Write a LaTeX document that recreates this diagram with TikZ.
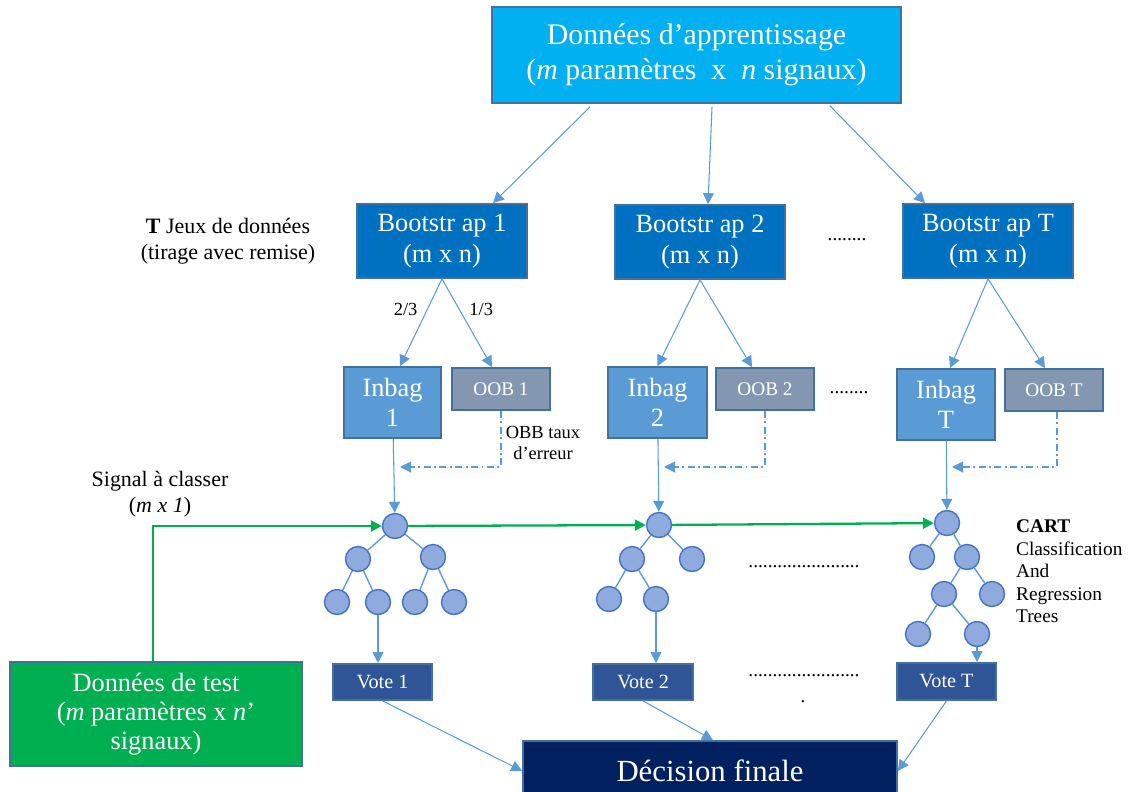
\documentclass[tikz,border=0pt]{standalone}
\usepackage{fontspec}
\setmainfont{Liberation Serif}
\usetikzlibrary{arrows.meta,positioning}

\definecolor{edgeblue}{HTML}{5B9BD5}
\definecolor{boxline}{HTML}{41719C}
\definecolor{topfill}{HTML}{00B0F0}
\definecolor{bootfill}{HTML}{0070C0}
\definecolor{inbagfill}{HTML}{5B9BD5}
\definecolor{oobfill}{HTML}{8497B0}
\definecolor{votefill}{HTML}{2F5597}
\definecolor{decfill}{HTML}{002060}
\definecolor{testgreen}{HTML}{00B050}
\definecolor{circfill}{HTML}{8FAADC}
\definecolor{circline}{HTML}{4472C4}

\begin{document}
\begin{tikzpicture}[
    x=0.02cm, y=-0.02cm,
    box/.style={draw=boxline, line width=1pt, align=center, text=white, inner sep=2pt},
    tnode/.style={circle, draw=circline, fill=circfill, line width=0.8pt, minimum size=0.5cm, inner sep=0pt},
    note/.style={align=center, inner sep=1pt},
    arr/.style={-{Triangle[length=2.2mm, width=2.2mm]}, draw=edgeblue, line width=0.6pt},
    edge/.style={draw=edgeblue, line width=0.8pt},
    oobarr/.style={arr, dash pattern=on 4pt off 2pt on 1pt off 2pt},
    garr/.style={-{Triangle[length=2.2mm, width=2.2mm]}, draw=testgreen, line width=1.3pt}
]
\useasboundingbox (0,0) rectangle (1128,791);

% training data
\node[box, fill=topfill, minimum width=8.18cm, minimum height=1.92cm, font=\fontsize{17}{20}\selectfont] (top) at (696.5,55)
    {Données d’apprentissage\\(\textit{m} paramètres\ \ x\ \ \textit{n} signaux)};

% bootstrap samples
\node[box, fill=bootfill, minimum width=3.4cm, minimum height=1.48cm, font=\fontsize{15}{18}\selectfont] (boot1) at (442,241) {Bootstr ap 1\\(m x n)};
\node[box, fill=bootfill, minimum width=3.4cm, minimum height=1.48cm, font=\fontsize{15}{18}\selectfont] (boot2) at (700,242) {Bootstr ap 2\\(m x n)};
\node[box, fill=bootfill, minimum width=3.4cm, minimum height=1.48cm, font=\fontsize{15}{18}\selectfont] (bootT) at (988,241) {Bootstr ap T\\(m x n)};
\node[note, font=\fontsize{12.5}{14.5}\selectfont] (jeux) at (228,241) {\textbf{T} Jeux de données\\(tirage avec remise)};
\node[note, font=\fontsize{11}{13}\selectfont] (dots1) at (847,240) {........};

\draw[arr] ([xshift=-2.13cm,yshift=-0.06cm]top.south) -- ([xshift=1.02cm]boot1.north);
\draw[arr] ([xshift=0.31cm,yshift=-0.06cm]top.south) -- ([xshift=0.16cm]boot2.north);
\draw[arr] ([xshift=2.67cm,yshift=-0.04cm]top.south) -- ([xshift=-1.26cm]bootT.north);

% inbag / oob
\node[box, fill=inbagfill, minimum width=1.94cm, minimum height=1.42cm, font=\fontsize{15}{17}\selectfont] (inbag1) at (392.5,402.5) {Inbag\\1};
\node[box, fill=oobfill, minimum width=1.96cm, minimum height=0.84cm, font=\fontsize{11}{13}\selectfont] (oob1) at (501,389) {OOB 1};
\node[box, fill=inbagfill, minimum width=1.98cm, minimum height=1.42cm, font=\fontsize{15}{17}\selectfont] (inbag2) at (657.5,402.5) {Inbag\\2};
\node[box, fill=oobfill, minimum width=1.96cm, minimum height=0.84cm, font=\fontsize{11}{13}\selectfont] (oob2) at (765,389) {OOB 2};
\node[box, fill=inbagfill, minimum width=1.96cm, minimum height=1.42cm, font=\fontsize{15}{17}\selectfont] (inbagT) at (946,404.5) {Inbag\\T};
\node[box, fill=oobfill, minimum width=1.96cm, minimum height=0.84cm, font=\fontsize{11}{13}\selectfont] (oobT) at (1054,390) {OOB T};
\node[note, font=\fontsize{11}{13}\selectfont] (dots2) at (849,393) {........};

\draw[arr] (boot1.south) -- ([xshift=0.15cm]inbag1.north) node[pos=0.35, left=2pt, text=black, font=\fontsize{10.5}{12}\selectfont] (l23) {2/3};
\draw[arr] (boot1.south) -- ([xshift=-0.18cm]oob1.north) node[pos=0.35, right=2pt, text=black, font=\fontsize{10.5}{12}\selectfont] (l13) {1/3};
\draw[arr] (boot2.south) -- (inbag2.north);
\draw[arr] (boot2.south) -- ([xshift=-0.26cm]oob2.north);
\draw[arr] (bootT.south) -- ([xshift=0.08cm]inbagT.north);
\draw[arr] (bootT.south) -- ([xshift=-0.18cm]oobT.north);

% oob error
\coordinate (e1) at (400,467);
\coordinate (e2) at (664,467);
\coordinate (eT) at (952,467);
\draw[oobarr] (oob1.south) |- (e1);
\draw[oobarr] (oob2.south) |- (e2);
\draw[oobarr] ([xshift=0.06cm]oobT.south) |- (eT);
\node[note, font=\fontsize{10.5}{12}\selectfont] (obb) at (543,443) {OBB taux\\d’erreur};

% tree 1
\node[tnode] (r1) at (395,526) {};
\node[tnode] (r1a) at (358,559) {};
\node[tnode] (r1b) at (433,557) {};
\node[tnode] (r1c) at (337,602) {};
\node[tnode] (r1d) at (378,602) {};
\node[tnode] (r1e) at (415,602) {};
\node[tnode] (r1f) at (454,602) {};
\draw[edge] (r1) -- (r1a);
\draw[edge] (r1) -- (r1b);
\draw[edge] (r1a) -- (r1c);
\draw[edge] (r1a) -- (r1d);
\draw[edge] (r1b) -- (r1e);
\draw[edge] (r1b) -- (r1f);

% tree 2
\node[tnode] (r2) at (659,525) {};
\node[tnode] (r2a) at (632,559) {};
\node[tnode] (r2b) at (692,559) {};
\node[tnode] (r2c) at (609,599) {};
\node[tnode] (r2d) at (656,599) {};
\draw[edge] (r2) -- (r2a);
\draw[edge] (r2) -- (r2b);
\draw[edge] (r2a) -- (r2c);
\draw[edge] (r2a) -- (r2d);

% tree T
\node[tnode] (rT) at (947,523) {};
\node[tnode] (rTa) at (922,557) {};
\node[tnode] (rTb) at (967,557) {};
\node[tnode] (rTc) at (944,594) {};
\node[tnode] (rTd) at (992,594) {};
\node[tnode] (rTe) at (918,634) {};
\node[tnode] (rTf) at (977,634) {};
\draw[edge] (rT) -- (rTa);
\draw[edge] (rT) -- (rTb);
\draw[edge] (rTb) -- (rTc);
\draw[edge] (rTb) -- (rTd);
\draw[edge] (rTc) -- (rTe);
\draw[edge] (rTc) -- (rTf);

\node[note, align=left, anchor=north west, font=\fontsize{11}{12.8}\selectfont] (cart) at (1014,518)
    {\textbf{CART}\\Classification\\And\\Regression\\Trees};
\node[note, font=\fontsize{11}{13}\selectfont] (dots3) at (804,567) {.......................};

\draw[arr] (inbag1) -- (r1);
\draw[arr] (inbag2) -- (r2);
\draw[arr] (inbagT) -- (rT);

% votes
\node[box, fill=votefill, minimum width=1.98cm, minimum height=0.72cm, font=\fontsize{11.5}{13}\selectfont] (vote1) at (382.5,682) {Vote 1};
\node[box, fill=votefill, minimum width=2cm, minimum height=0.72cm, font=\fontsize{11.5}{13}\selectfont] (vote2) at (643,682) {Vote 2};
\node[box, fill=votefill, minimum width=1.98cm, minimum height=0.74cm, font=\fontsize{11.5}{13}\selectfont] (voteT) at (946.5,681.5) {Vote T};
\node[note, font=\fontsize{11}{13}\selectfont] (dots4) at (804,676) {.......................};
\node[note, font=\fontsize{11}{13}\selectfont] (dots5) at (803,702) {.};

\draw[arr] (r1d) -- (r1d |- vote1.north);
\draw[arr] (r2d) -- (r2d |- vote2.north);
\draw[arr] (rTf) -- (rTf |- voteT.north);

% test data
\node[box, fill=testgreen, minimum width=5.84cm, minimum height=2.08cm, font=\fontsize{15}{16.5}\selectfont] (test) at (156,714)
    {Données de test\\(\textit{m} paramètres x \textit{n}’\\signaux)};
\node[note, font=\fontsize{12.5}{15}\selectfont] (signal) at (160,494) {Signal à classer\\(\textit{m x 1})};
\draw[garr] ([xshift=-0.06cm]test.north) |- (r1);
\draw[garr] (r1) -- (r2);
\draw[garr] (r2) -- (rT);

% final decision
\node[box, fill=decfill, minimum width=7.48cm, minimum height=1.2cm, font=\fontsize{17.5}{20}\selectfont] (dec) at (710,771) {Décision finale};
\draw[arr] (vote1.south) -- (dec.west);
\draw[arr] (vote2.south) -- ([xshift=0.06cm]dec.north);
\draw[arr] (voteT.south) -- (dec.east);
\end{tikzpicture}
\end{document}
